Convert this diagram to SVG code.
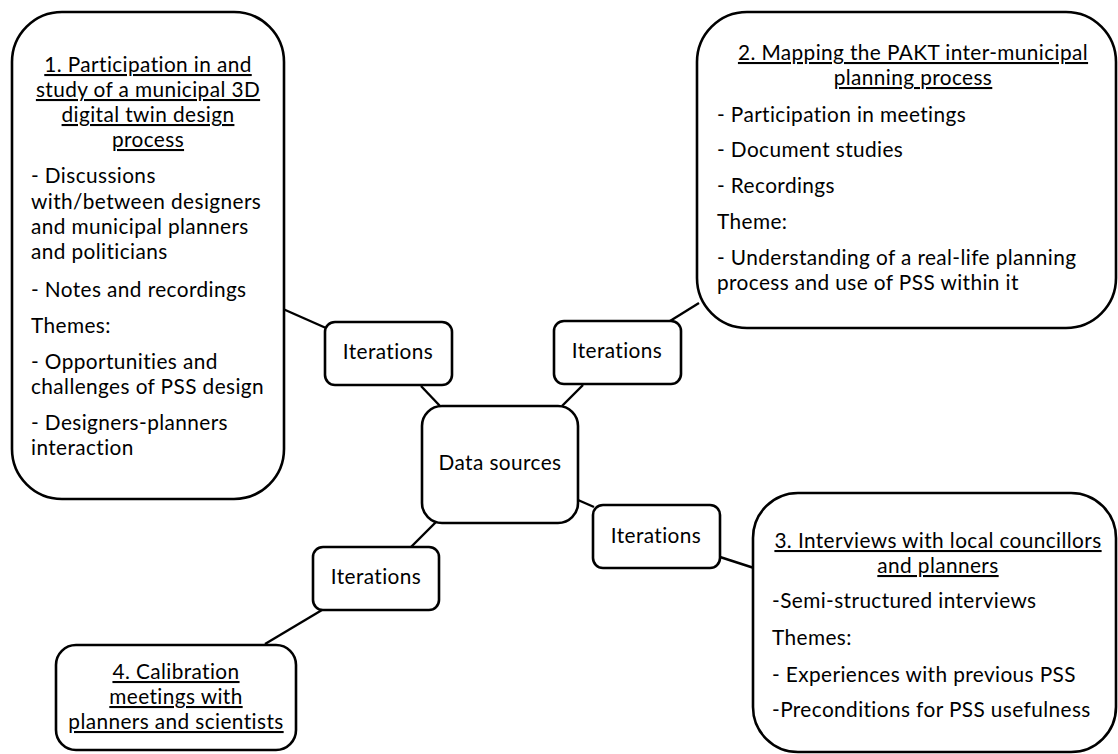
<svg xmlns="http://www.w3.org/2000/svg" width="1118" height="754" viewBox="0 0 1118 754">
<style>
.box{fill:#fff;stroke:#000;stroke-width:2.6}
.con line{stroke:#000;stroke-width:2.4}
text{font-family:Lato,"Open Sans","Liberation Sans",sans-serif;font-size:20.8px;letter-spacing:0.4px;fill:#000}
.t{text-anchor:middle;text-decoration:underline}
.c{text-anchor:middle}
</style>
<rect width="1118" height="754" fill="#fff"/>
<g id="connectors" class="con">
<line x1="283" y1="309" x2="326" y2="328"/>
<line x1="421" y1="386" x2="440" y2="406"/>
<line x1="562" y1="406" x2="583" y2="385"/>
<line x1="670" y1="321" x2="699" y2="303"/>
<line x1="578" y1="500" x2="594" y2="507"/>
<line x1="720" y1="557" x2="754" y2="568"/>
<line x1="436" y1="522" x2="411" y2="547"/>
<line x1="322" y1="610" x2="265" y2="644"/>
</g>
<g id="box1">
<rect class="box" x="12" y="12" width="272" height="487" rx="50" ry="50"/>
<text class="t" x="148" y="72">1. Participation in and</text>
<text class="t" x="148" y="97">study of a municipal 3D</text>
<text class="t" x="148" y="122">digital twin design</text>
<text class="t" x="148" y="147">process</text>
<text x="31" y="183">- Discussions</text>
<text x="31" y="209">with/between designers</text>
<text x="31" y="234">and municipal planners</text>
<text x="31" y="259">and politicians</text>
<text x="31" y="297">- Notes and recordings</text>
<text x="31" y="333">Themes:</text>
<text x="31" y="369">- Opportunities and</text>
<text x="31" y="394">challenges of PSS design</text>
<text x="31" y="430">- Designers-planners</text>
<text x="31" y="455">interaction</text>
</g>
<g id="box2">
<rect class="box" x="697" y="12" width="419" height="316" rx="50" ry="50"/>
<text class="t" x="913" y="60">2. Mapping the PAKT inter-municipal</text>
<text class="t" x="913" y="85">planning process</text>
<text x="717" y="122">- Participation in meetings</text>
<text x="717" y="157">- Document studies</text>
<text x="717" y="193">- Recordings</text>
<text x="717" y="229">Theme:</text>
<text x="717" y="265">- Understanding of a real-life planning</text>
<text x="717" y="290">process and use of PSS within it</text>
</g>
<g id="box3">
<rect class="box" x="753" y="493" width="363" height="259" rx="45" ry="45"/>
<text class="t" x="938" y="548">3. Interviews with local councillors</text>
<text class="t" x="938" y="573">and planners</text>
<text x="772" y="608">-Semi-structured interviews</text>
<text x="772" y="645">Themes:</text>
<text x="772" y="682">- Experiences with previous PSS</text>
<text x="772" y="717">-Preconditions for PSS usefulness</text>
</g>
<g id="box4">
<rect class="box" x="56" y="645" width="240" height="105" rx="20" ry="20"/>
<text class="t" x="176" y="679">4. Calibration</text>
<text class="t" x="176" y="704">meetings with</text>
<text class="t" x="176" y="729">planners and scientists</text>
</g>
<g id="center">
<rect class="box" x="422" y="406" width="156" height="117" rx="20" ry="20"/>
<text class="c" x="500" y="470">Data sources</text>
</g>
<g id="iter-tl">
<rect class="box" x="325" y="322" width="127" height="63" rx="10" ry="10"/>
<text class="c" x="388" y="359">Iterations</text>
</g>
<g id="iter-tr">
<rect class="box" x="554" y="321" width="127" height="63" rx="10" ry="10"/>
<text class="c" x="617" y="358">Iterations</text>
</g>
<g id="iter-r">
<rect class="box" x="593" y="505" width="127" height="63" rx="10" ry="10"/>
<text class="c" x="656" y="543">Iterations</text>
</g>
<g id="iter-bl">
<rect class="box" x="313" y="547" width="126" height="63" rx="10" ry="10"/>
<text class="c" x="376" y="584">Iterations</text>
</g>
</svg>
